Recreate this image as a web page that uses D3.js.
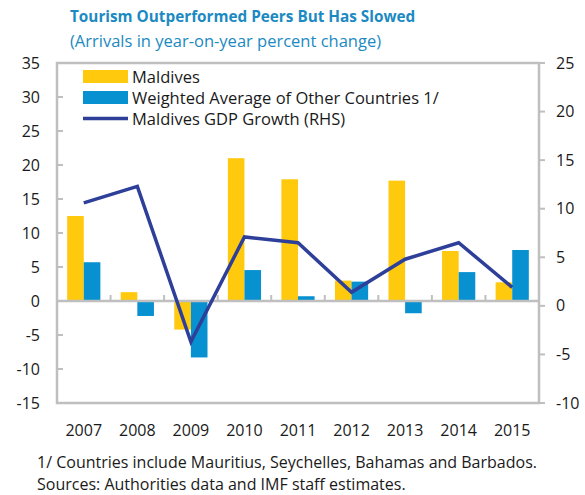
<!DOCTYPE html>
<html>
<head>
<meta charset="utf-8">
<script src="https://d3js.org/d3.v7.min.js"></script>
<style>
  body { margin: 0; background: #fff; }
  text { font-family: "Open Sans", sans-serif; fill: #1a1a1a; }
</style>
</head>
<body>
<script>
var years = ["2007", "2008", "2009", "2010", "2011", "2012", "2013", "2014", "2015"];
var maldives = [12.5, 1.3, -4.2, 21.0, 17.9, 3.0, 17.7, 7.35, 2.75];
var others = [5.7, -2.2, -8.3, 4.55, 0.7, 2.85, -1.8, 4.25, 7.5];
var gdp = [10.6, 12.3, -3.7, 7.1, 6.5, 1.4, 4.8, 6.5, 1.9];
var leftTicks = [-15, -10, -5, 0, 5, 10, 15, 20, 25, 30, 35];
var rightTicks = [-10, -5, 0, 5, 10, 15, 20, 25];

var W = 585, H = 495;
var pLeft = 57, pRight = 539, pTop = 63, pBottom = 403;
var gray = "#bfbfbf";

var svg = d3.select("body").append("svg").attr("width", W).attr("height", H);

var x = d3.scaleBand().domain(years).range([pLeft, pRight]).paddingInner(0.38).paddingOuter(0.19);
var xc = d3.scaleBand().domain(years).range([pLeft, pRight]);
var yL = d3.scaleLinear().domain([-15, 35]).range([pBottom, pTop]);
var yR = d3.scaleLinear().domain([-10, 25]).range([pBottom, pTop]);
var half = x.bandwidth() / 2;

// title
svg.append("text").attr("x", 70).attr("y", 22)
  .style("font-size", "15.3px").style("font-weight", "700").style("fill", "#1b8ac2")
  .text("Tourism Outperformed Peers But Has Slowed");
svg.append("text").attr("x", 70).attr("y", 47)
  .style("font-size", "16.5px").style("fill", "#1b8ac2")
  .text("(Arrivals in year-on-year percent change)");

// bars
svg.selectAll("rect.mal").data(maldives).enter().append("rect")
  .attr("x", function(d, i) { return x(years[i]); })
  .attr("width", half)
  .attr("y", function(d) { return yL(Math.max(0, d)); })
  .attr("height", function(d) { return Math.abs(yL(d) - yL(0)); })
  .attr("fill", "#ffc90e");
svg.selectAll("rect.oth").data(others).enter().append("rect")
  .attr("x", function(d, i) { return x(years[i]) + half; })
  .attr("width", half)
  .attr("y", function(d) { return yL(Math.max(0, d)); })
  .attr("height", function(d) { return Math.abs(yL(d) - yL(0)); })
  .attr("fill", "#0791d1");

// frame
svg.append("rect").attr("x", pLeft).attr("y", pTop).attr("width", pRight - pLeft).attr("height", pBottom - pTop)
  .attr("fill", "none").attr("stroke", gray).attr("stroke-width", 2.5);

// zero line and category ticks
svg.append("line").attr("x1", pLeft).attr("x2", pRight).attr("y1", yL(0)).attr("y2", yL(0))
  .attr("stroke", gray).attr("stroke-width", 2.5);
svg.selectAll("line.ct").data(years.slice(1)).enter().append("line")
  .attr("x1", function(d) { return xc(d); }).attr("x2", function(d) { return xc(d); })
  .attr("y1", yL(0)).attr("y2", yL(0) - 6)
  .attr("stroke", gray).attr("stroke-width", 2);

// left axis
svg.selectAll("line.lt").data(leftTicks).enter().append("line")
  .attr("x1", pLeft).attr("x2", pLeft + 6)
  .attr("y1", function(d) { return yL(d); }).attr("y2", function(d) { return yL(d); })
  .attr("stroke", gray).attr("stroke-width", 2);
svg.selectAll("text.lt").data(leftTicks).enter().append("text")
  .attr("x", 40).attr("y", function(d) { return yL(d) + 5.5; })
  .attr("text-anchor", "end").style("font-size", "16px")
  .text(function(d) { return d; });

// right axis
svg.selectAll("line.rt").data(rightTicks).enter().append("line")
  .attr("x1", pRight).attr("x2", pRight + 6)
  .attr("y1", function(d) { return yR(d); }).attr("y2", function(d) { return yR(d); })
  .attr("stroke", gray).attr("stroke-width", 2);
svg.selectAll("text.rt").data(rightTicks).enter().append("text")
  .attr("x", 556).attr("y", function(d) { return yR(d) + 5.5; })
  .style("font-size", "16px")
  .text(function(d) { return d; });

// x labels
svg.selectAll("text.xl").data(years).enter().append("text")
  .attr("x", function(d) { return xc(d) + xc.bandwidth() / 2; }).attr("y", 436)
  .attr("text-anchor", "middle").style("font-size", "16px")
  .text(function(d) { return d; });

// gdp line
var line = d3.line()
  .x(function(d, i) { return xc(years[i]) + xc.bandwidth() / 2; })
  .y(function(d) { return yR(d); });
svg.append("path").datum(gdp).attr("d", line)
  .attr("fill", "none").attr("stroke", "#2e3f99").attr("stroke-width", 3.5)
  .attr("stroke-linejoin", "miter");

// legend
var lg = svg.append("g");
lg.append("rect").attr("x", 83).attr("y", 70).attr("width", 45).attr("height", 13).attr("fill", "#ffc90e");
lg.append("rect").attr("x", 83).attr("y", 91).attr("width", 45).attr("height", 13).attr("fill", "#0791d1");
lg.append("line").attr("x1", 83).attr("x2", 128).attr("y1", 118.5).attr("y2", 118.5)
  .attr("stroke", "#2e3f99").attr("stroke-width", 3.5);
var labels = ["Maldives", "Weighted Average of Other Countries 1/", "Maldives GDP Growth (RHS)"];
lg.selectAll("text").data(labels).enter().append("text")
  .attr("x", 132).attr("y", function(d, i) { return 82.5 + i * 21; })
  .style("font-size", "16.5px")
  .text(function(d) { return d; });

// footnotes
svg.append("text").attr("x", 37).attr("y", 468).style("font-size", "16px")
  .text("1/ Countries include Mauritius, Seychelles, Bahamas and Barbados.");
svg.append("text").attr("x", 37).attr("y", 490).style("font-size", "16px")
  .text("Sources: Authorities data and IMF staff estimates.");
</script>
</body>
</html>
